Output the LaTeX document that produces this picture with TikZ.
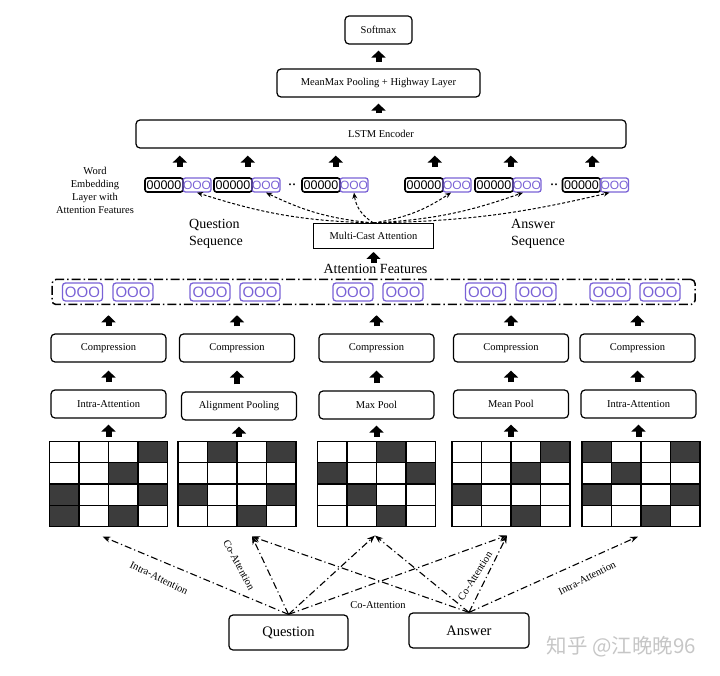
\documentclass[tikz,border=0pt]{standalone}
\usepackage{fontspec}
\setmainfont{Liberation Serif}
\newfontfamily\zerofont{Liberation Sans}
\newfontfamily\cjkfont{Noto Sans CJK SC}
\usepackage{tikz}
\usetikzlibrary{shapes.geometric, arrows.meta, calc}
\definecolor{featpurple}{RGB}{122,98,214}
\definecolor{cellgray}{RGB}{60,60,60}
\tikzstyle{layerbox} = [rectangle, rounded corners=4pt, minimum width=115pt, minimum height=28pt, text centered, draw=black, line width=1.2pt, font=\fontsize{10.5}{12}\selectfont]
\tikzstyle{castbox} = [rectangle, minimum width=120pt, minimum height=25pt, text centered, draw=black, line width=1pt, font=\fontsize{10.5}{12}\selectfont]
\tikzstyle{wordbox} = [rectangle, rounded corners=2.5pt, minimum width=38pt, minimum height=14pt, inner sep=0pt, draw=black, line width=1.6pt, font=\zerofont\fontsize{12.5}{12.5}\selectfont]
\tikzstyle{featsmall} = [rectangle, rounded corners=2.5pt, minimum width=28pt, minimum height=14pt, inner sep=0pt, draw=featpurple, line width=1.3pt, text=featpurple, font=\zerofont\fontsize{12}{12}\selectfont]
\tikzstyle{featbox} = [rectangle, rounded corners=3pt, minimum width=40pt, minimum height=18pt, inner sep=0pt, draw=featpurple, line width=1.3pt, text=featpurple, font=\zerofont\fontsize{15}{15}\selectfont]
\tikzstyle{featband} = [rectangle, rounded corners=4pt, minimum width=643pt, minimum height=25pt, draw=black, line width=1.5pt, dash pattern=on 9pt off 3pt on 1.5pt off 3pt]
\tikzstyle{gridbox} = [rectangle, minimum width=118pt, minimum height=85pt, inner sep=0pt, outer sep=0pt]
\tikzstyle{cellline} = [draw=black, line width=1.3pt]
\tikzstyle{darkcell} = [fill=cellgray]
\tikzstyle{blockarrow} = [line width=6pt, -{Triangle[length=7pt,width=14pt]}, shorten <=6pt, shorten >=6pt]
\tikzstyle{castarrow} = [densely dashed, line width=1pt, -{Stealth[length=6pt,width=5pt]}]
\tikzstyle{attnarrow} = [dash pattern=on 7pt off 3pt on 1.2pt off 3pt, line width=1.1pt, -{Stealth[length=8pt,width=6pt]}]
\tikzstyle{attnlabel} = [font=\fontsize{10.5}{12}\selectfont, inner sep=1pt]
\tikzstyle{seqlabel} = [font=\fontsize{14}{17}\selectfont, align=left]
\begin{document}
\begin{tikzpicture}[x=1pt, y=-1pt, node distance=56pt]
\useasboundingbox (0,0) rectangle (720,676);

% output layers
\node (softmax) [layerbox, minimum width=67pt] at (378.5,30) {Softmax};
\node (meanmax) [layerbox, minimum width=203pt, below of=softmax, yshift=3pt] {MeanMax Pooling + Highway Layer};
\node (lstm) [layerbox, minimum width=490pt, below of=meanmax, yshift=5pt, xshift=2.5pt] {LSTM Encoder};

% word embeddings with attention features
\node (wordlabel) [align=center, font=\fontsize{10.5}{13}\selectfont] at (95,190) {Word\\Embedding\\Layer with\\Attention Features};
\node (w1) [wordbox] at (164,185) {00000};
\node (p1) [featsmall, right of=w1, xshift=-23pt] {OOO};
\node (w2) [wordbox] at (233,185) {00000};
\node (p2) [featsmall, right of=w2, xshift=-23pt] {OOO};
\node (dots1) [font=\fontsize{16}{16}\selectfont] at (292,185) {..};
\node (w3) [wordbox] at (321,185) {00000};
\node (p3) [featsmall, right of=w3, xshift=-23pt] {OOO};
\node (w4) [wordbox] at (424,185) {00000};
\node (p4) [featsmall, right of=w4, xshift=-23pt] {OOO};
\node (w5) [wordbox] at (494,185) {00000};
\node (p5) [featsmall, right of=w5, xshift=-23pt] {OOO};
\node (dots2) [font=\fontsize{16}{16}\selectfont] at (554,185) {..};
\node (w6) [wordbox] at (581.5,185) {00000};
\node (p6) [featsmall, right of=w6, xshift=-23pt] {OOO};

\node (qseq) [seqlabel] at (216,234) {Question\\Sequence};
\node (aseq) [seqlabel] at (538,234) {Answer\\Sequence};

% compression columns
\node (comp1) [layerbox] at (108.5,348) {Compression};
\node (comp2) [layerbox] at (237,348) {Compression};
\node (comp3) [layerbox] at (376.5,348) {Compression};
\node (comp4) [layerbox] at (511,348) {Compression};
\node (comp5) [layerbox] at (637.5,348) {Compression};

\node (intraq) [layerbox, below of=comp1] {Intra-Attention};
\node (alignpool) [layerbox, below of=comp2, yshift=-2pt, xshift=2pt] {Alignment Pooling};
\node (maxpool) [layerbox, below of=comp3, yshift=-1pt] {Max Pool};
\node (meanpool) [layerbox, below of=comp4] {Mean Pool};
\node (intraa) [layerbox, below of=comp5, xshift=1pt] {Intra-Attention};

% attention feature band
\node (band) [featband, above of=comp3, xshift=-3pt] {};
\node (f1) [featbox] at (82.5,292) {OOO};
\node (f2) [featbox] at (133,292) {OOO};
\node (f3) [featbox] at (210,292) {OOO};
\node (f4) [featbox] at (260,292) {OOO};
\node (f5) [featbox] at (353,292) {OOO};
\node (f6) [featbox] at (403,292) {OOO};
\node (f7) [featbox] at (485.5,292) {OOO};
\node (f8) [featbox] at (536,292) {OOO};
\node (f9) [featbox] at (610,292) {OOO};
\node (f10) [featbox] at (660,292) {OOO};

\node (mca) [castbox, above of=band] {Multi-Cast Attention};
\node (attfeat) [font=\fontsize{14}{17}\selectfont, inner sep=0pt, below of=mca, yshift=23pt, xshift=2pt] {Attention Features};

% attention matrices
\node (mat1) [gridbox, below of=intraq, yshift=-24pt] {};
\node (mat2) [gridbox, below of=comp2, yshift=-80pt] {};
\node (mat3) [gridbox, below of=comp3, yshift=-80pt] {};
\node (mat4) [gridbox, below of=comp4, yshift=-80pt] {};
\node (mat5) [gridbox, below of=comp5, yshift=-80pt, xshift=3.5pt] {};
\foreach \g/\row/\col in {mat1/0/3, mat1/1/2, mat1/2/0, mat1/2/3, mat1/3/0, mat1/3/2,
                          mat2/0/1, mat2/0/3, mat2/2/0, mat2/2/3, mat2/3/2,
                          mat3/0/2, mat3/1/0, mat3/1/3, mat3/2/1, mat3/3/2,
                          mat4/0/3, mat4/1/2, mat4/2/0, mat4/3/2,
                          mat5/0/0, mat5/0/3, mat5/1/1, mat5/2/0, mat5/2/3, mat5/3/2}
  \fill [darkcell] ($(\g.north west)+(\col*29.5,\row*21.25)$) rectangle ++(29.5,21.25);
\foreach \g in {mat1,mat2,mat3,mat4,mat5}
  \foreach \row in {0,1,2,3}
    \foreach \col in {0,1,2,3}
      \draw [cellline] ($(\g.north west)+(\col*29.5,\row*21.25)$) rectangle ++(29.5,21.25);

% inputs
\node (question) [layerbox, minimum width=119pt, minimum height=35pt, font=\fontsize{14.5}{16}\selectfont] at (288.5,632.5) {Question};
\node (answer) [layerbox, minimum width=120pt, minimum height=35pt, font=\fontsize{14.5}{16}\selectfont] at (469,630.5) {Answer};

\coordinate (in1) at ($(mat1.south)+(-6,10)$);
\coordinate (in2) at ($(mat2.south)+(15,10)$);
\coordinate (in3) at ($(mat3.south)+(-1.5,9)$);
\coordinate (in4) at ($(mat4.south)+(-4,9)$);
\coordinate (in5) at ($(mat5.south)+(-3,10)$);

\node (lblq1) [attnlabel, rotate=-26] at (159,578) {Intra-Attention};
\node (lblq2) [attnlabel, rotate=-62] at (239,565) {Co-Attention};
\node (lblco) [attnlabel] at (378,605) {Co-Attention};
\node (lbla3) [attnlabel, rotate=58] at (475,576) {Co-Attention};
\node (lbla4) [attnlabel, rotate=27] at (587,578) {Intra-Attention};

\node (watermark) [text=gray!45, font=\cjkfont\fontsize{20.5}{20.5}\selectfont, anchor=west] at (543,647) {知乎 @江晚晚96};

% block arrows
\draw [blockarrow] (meanmax) -- (softmax);
\draw [blockarrow] (meanmax |- lstm.north) -- (meanmax.south);
\coordinate (top1) at ([xshift=-4pt]w1.north east);
\coordinate (top2) at ([xshift=-5pt]w2.north east);
\coordinate (top3) at ([xshift=-5pt]w3.north east);
\coordinate (top4) at ([xshift=-9pt]w4.north east);
\coordinate (top5) at ([xshift=-3pt]w5.north east);
\coordinate (top6) at ([xshift=-9pt]w6.north east);
\draw [blockarrow, shorten <=10pt, shorten >=7pt] (top1) -- (top1 |- lstm.south);
\draw [blockarrow, shorten <=10pt, shorten >=7pt] (top2) -- (top2 |- lstm.south);
\draw [blockarrow, shorten <=10pt, shorten >=7pt] (top3) -- (top3 |- lstm.south);
\draw [blockarrow, shorten <=10pt, shorten >=7pt] (top4) -- (top4 |- lstm.south);
\draw [blockarrow, shorten <=10pt, shorten >=7pt] (top5) -- (top5 |- lstm.south);
\draw [blockarrow, shorten <=10pt, shorten >=7pt] (top6) -- (top6 |- lstm.south);
\draw [blockarrow, shorten <=1pt, shorten >=3pt] (mca |- attfeat.north) -- (mca.south);
\draw [blockarrow, shorten <=7pt, shorten >=10pt] (comp1) -- (comp1 |- band.south);
\draw [blockarrow, shorten <=7pt, shorten >=10pt] (comp2) -- (comp2 |- band.south);
\draw [blockarrow, shorten <=7pt, shorten >=10pt] (comp3) -- (comp3 |- band.south);
\draw [blockarrow, shorten <=7pt, shorten >=10pt] (comp4) -- (comp4 |- band.south);
\draw [blockarrow, shorten <=7pt, shorten >=10pt] (comp5) -- (comp5 |- band.south);
\draw [blockarrow, shorten <=7pt, shorten >=8pt] (intraq) -- (comp1);
\draw [blockarrow, shorten <=7pt, shorten >=8pt] (alignpool.north -| comp2) -- (comp2.south);
\draw [blockarrow, shorten <=7pt, shorten >=8pt] (maxpool) -- (comp3);
\draw [blockarrow, shorten <=7pt, shorten >=8pt] (meanpool) -- (comp4);
\draw [blockarrow, shorten <=7pt, shorten >=8pt] (intraa.north -| comp5) -- (comp5.south);
\draw [blockarrow, shorten <=5pt, shorten >=6pt] (mat1) -- (intraq);
\draw [blockarrow, shorten <=5pt, shorten >=6pt] (mat2.north -| alignpool) -- (alignpool.south);
\draw [blockarrow, shorten <=5pt, shorten >=6pt] (mat3) -- (maxpool);
\draw [blockarrow, shorten <=5pt, shorten >=6pt] (mat4) -- (meanpool);
\draw [blockarrow, shorten <=5pt, shorten >=6pt] (mat5.north -| intraa) -- (intraa.south);

% multi-cast
\draw [castarrow] (mca.north) to[bend left=8] (p1.south);
\draw [castarrow] (mca.north) to[bend left=10] (p2.south);
\draw [castarrow] (mca.north) to[bend left=25] (p3.south);
\draw [castarrow] (mca.north) to[bend right=12] ([xshift=-6pt]p4.south);
\draw [castarrow] (mca.north) to[bend right=8] ([xshift=-4pt]p5.south);
\draw [castarrow] (mca.north) to[bend right=6] ([xshift=-5pt]p6.south);

% attention
\draw [attnarrow] (question.north) -- (in1);
\draw [attnarrow] (question.north) -- (in2);
\draw [attnarrow] (question.north) -- (in3);
\draw [attnarrow] (question.north) -- (in4);
\draw [attnarrow] (answer.north) -- (in2);
\draw [attnarrow] (answer.north) -- (in3);
\draw [attnarrow] (answer.north) -- (in4);
\draw [attnarrow] (answer.north) -- (in5);
\end{tikzpicture}
\end{document}
